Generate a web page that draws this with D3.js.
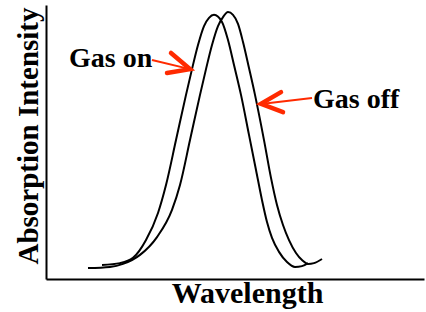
<!DOCTYPE html>
<html><head><meta charset="utf-8">
<script src="https://cdn.jsdelivr.net/npm/d3@7"></script>
<style>html,body{margin:0;padding:0;background:#fff;}svg{display:block;}</style>
</head><body>
<svg id="c" width="426" height="312"></svg>
<script>
// Wavelength (arbitrary units) and absorption intensity (%)
const gasOnX = [56,74,87,100,112,120,130,140,146,152,158,163,168,176,182,188,195,203,210,216,221,226,233,241,249,256,262];
const gasOnY = [5.1,5.8,7.7,14.2,24.1,34.3,50.7,67.2,76.6,85.4,92.3,95.3,96.4,93.8,87.2,78.1,67.2,52.6,39.8,28.8,20.8,15.0,9.9,6.2,4.4,4.7,5.8];
const gasOffX = [42,64,77,94,111,126,134,144,154,160,166,172,177,182,187,192,197,203,209,218,225,231,237,243,250,256,262,268,276];
const gasOffY = [4.0,4.4,5.5,8.8,15.3,25.2,34.3,50.7,67.2,76.6,85.4,92.3,95.6,97.4,96.4,93.1,86.5,77.0,67.2,50.7,36.9,27.0,19.7,14.2,9.5,6.9,5.5,5.8,7.3];
const labels = ["Gas on", "Gas off"];
const labelX = [23, 267];
const labelY = [77.4, 62.4];
const shaftFromX = [106, 266], shaftFromY = [79.9, 66.1];
const tipX = [144, 215], tipY = [76.6, 63.9];
const barbAX = [125, 235], barbAY = [82.5, 68.2];
const barbBX = [121, 237], barbBY = [75.2, 60.9];
const xTitle = "Wavelength", yTitle = "Absorption Intensity";

const svg = d3.select("#c");
const x = d3.scaleLinear().domain([0, 378]).range([46, 424]);
const y = d3.scaleLinear().domain([0, 100]).range([279, 5]);

svg.append("g").attr("transform", `translate(0,${y(0)})`)
  .call(d3.axisBottom(x).ticks(0).tickSize(0).tickSizeOuter(0))
  .call(g => g.select(".domain").attr("stroke", "#000").attr("stroke-width", 2));
svg.append("g").attr("transform", `translate(${x(0)},0)`)
  .call(d3.axisLeft(y).ticks(0).tickSize(0).tickSizeOuter(0))
  .call(g => g.select(".domain").attr("stroke", "#000").attr("stroke-width", 2));

const line = d3.line().x(d => x(d[0])).y(d => y(d[1])).curve(d3.curveMonotoneX);
[[gasOnX, gasOnY], [gasOffX, gasOffY]].forEach(([xs, ys]) => {
  svg.append("path").datum(xs.map((v, i) => [v, ys[i]]))
    .attr("d", line).attr("fill", "none").attr("stroke", "#000").attr("stroke-width", 2);
});

const font = "'Liberation Serif','Times New Roman',serif";
const red = "#ff2a00";
labels.forEach((t, i) => {
  svg.append("text").attr("x", x(labelX[i])).attr("y", y(labelY[i]))
    .attr("font-family", font).attr("font-weight", "bold").attr("font-size", 28).text(t);
  svg.append("line").attr("x1", x(shaftFromX[i])).attr("y1", y(shaftFromY[i]))
    .attr("x2", x(tipX[i])).attr("y2", y(tipY[i])).attr("stroke", red).attr("stroke-width", 2);
  svg.append("path")
    .attr("d", `M${x(barbAX[i])},${y(barbAY[i])}L${x(tipX[i])},${y(tipY[i])}L${x(barbBX[i])},${y(barbBY[i])}`)
    .attr("fill", "none").attr("stroke", red).attr("stroke-width", 4.5)
    .attr("stroke-linecap", "round").attr("stroke-linejoin", "miter");
});

svg.append("text").attr("x", 247.5).attr("y", 303)
  .attr("text-anchor", "middle").attr("font-family", font).attr("font-weight", "bold")
  .attr("font-size", 30).text(xTitle);
svg.append("text").attr("transform", `translate(38,136)rotate(-90)`)
  .attr("text-anchor", "middle").attr("font-family", font).attr("font-weight", "bold")
  .attr("font-size", 29).text(yTitle);
</script>
</body></html>
